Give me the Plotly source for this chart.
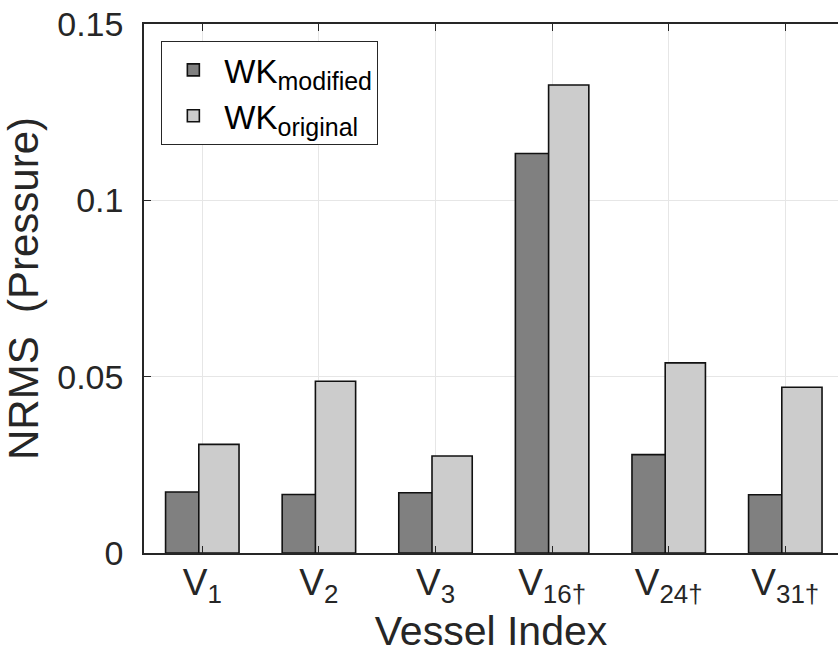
import plotly.graph_objects as go

categories = ["V<sub>1</sub>", "V<sub>2</sub>", "V<sub>3</sub>", "V<sub>16†</sub>", "V<sub>24†</sub>", "V<sub>31†</sub>"]
wk_modified = [0.0173, 0.0166, 0.0171, 0.1133, 0.0279, 0.0165]
wk_original = [0.0308, 0.0487, 0.0275, 0.1327, 0.0539, 0.0470]
y_ticks = [0, 0.05, 0.1, 0.15]
y_ticktext = ["0", "0.05", "0.1", "0.15"]

x_idx = list(range(len(categories)))
FONT = "Liberation Sans, Arial, Helvetica, sans-serif"

fig = go.Figure()
fig.add_trace(go.Bar(
    x=x_idx, y=wk_modified,
    name="WK<sub><span style='font-size:25px'>modified</span></sub>",
    marker=dict(color="#808080", line=dict(color="#111111", width=1.6)),
    width=0.345, offset=-0.315,
))
fig.add_trace(go.Bar(
    x=x_idx, y=wk_original,
    name="WK<sub><span style='font-size:25px'>original</span></sub>",
    marker=dict(color="#cccccc", line=dict(color="#111111", width=1.6)),
    width=0.345, offset=-0.03,
))

fig.update_layout(
    width=838, height=658,
    margin=dict(l=144, r=0, t=24, b=105, pad=0),
    barmode="overlay",
    plot_bgcolor="white", paper_bgcolor="white",
    font=dict(family=FONT, color="#262626", size=30),
    legend=dict(
        x=0.025, y=0.968, xanchor="left", yanchor="top",
        bgcolor="white", bordercolor="#262626", borderwidth=1,
        font=dict(size=33, color="black"),
        itemwidth=52, tracegroupgap=0,
    ),
    showlegend=True,
)
fig.update_xaxes(
    range=[-0.5, 5.452],
    tickmode="array", tickvals=x_idx, ticktext=categories,
    tickfont=dict(size=37, color="#262626"),
    showline=True, linecolor="#262626", linewidth=1.5, mirror="ticks",
    ticks="inside", ticklen=7, tickcolor="#262626", tickwidth=1,
    showgrid=True, gridcolor="#e6e6e6", gridwidth=1,
    zeroline=False,
    ticklabelstandoff=-4,
    title=dict(text="Vessel Index", font=dict(size=41, color="#262626"), standoff=8),
)
fig.update_yaxes(
    range=[0, 0.15],
    tickmode="array", tickvals=y_ticks, ticktext=y_ticktext,
    tickfont=dict(size=34, color="#262626"),
    showline=True, linecolor="#262626", linewidth=1.5,
    ticks="inside", ticklen=7, tickcolor="#262626", tickwidth=1,
    showgrid=True, gridcolor="#e6e6e6", gridwidth=1,
    zeroline=False,
    ticklabelstandoff=12,
    title=dict(text="NRMS  (Pressure)", font=dict(size=42, color="#262626"), standoff=10),
)

fig.write_html("out.html")
